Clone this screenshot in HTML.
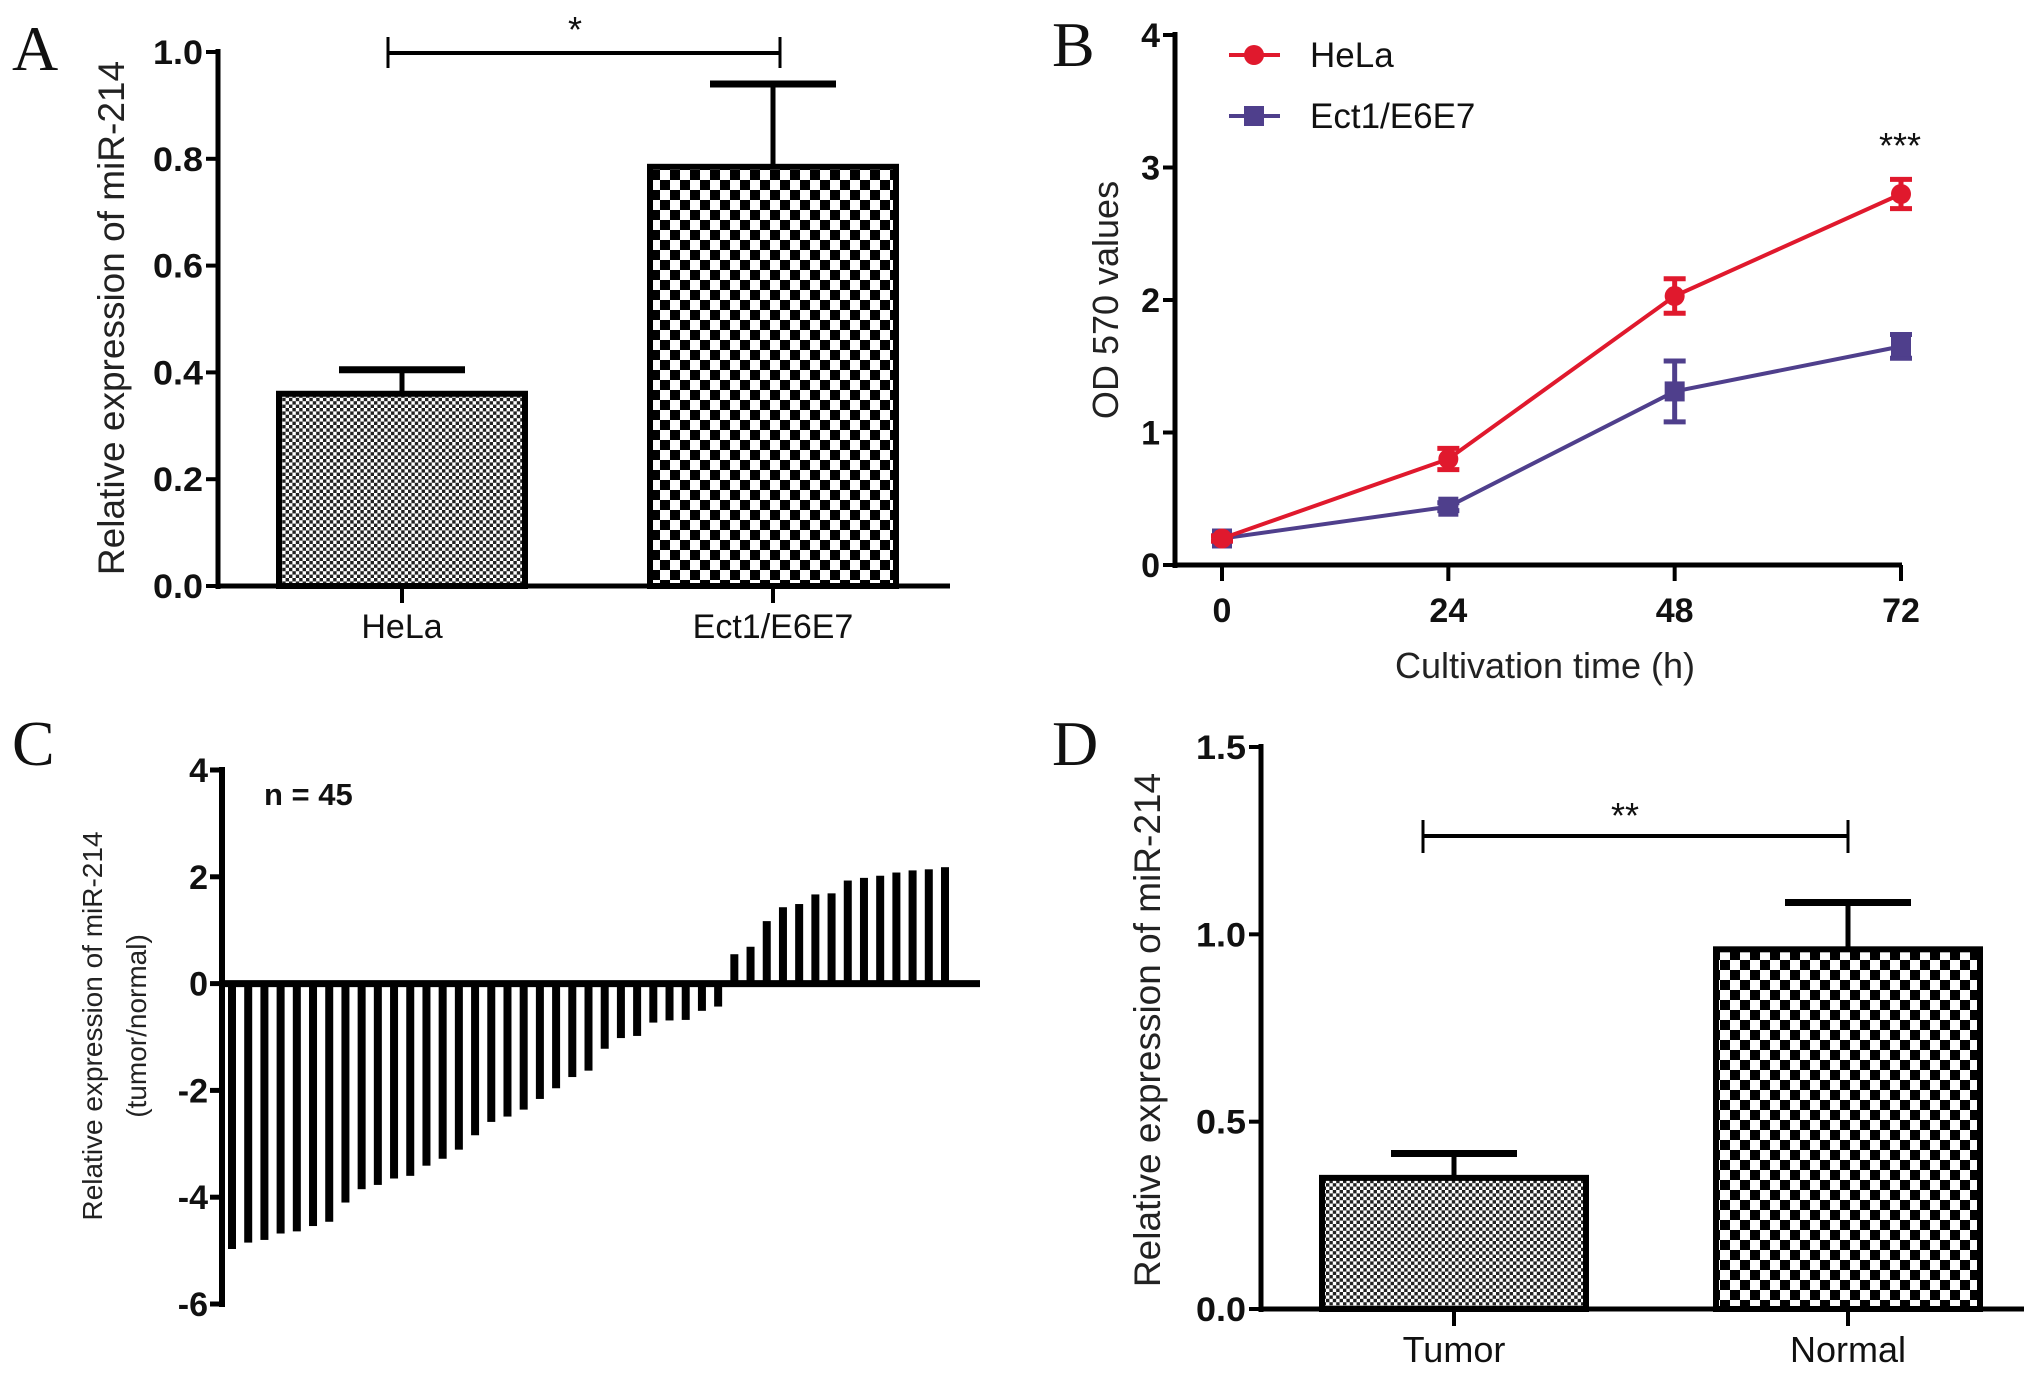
<!DOCTYPE html>
<html><head><meta charset="utf-8"><style>
html,body{margin:0;padding:0;background:#fff;overflow:hidden;}
svg{display:block;}
text{font-family:"Liberation Sans",Arial,sans-serif;}
.tick{font-weight:bold;font-size:34px;fill:#111;}
.lbl{font-family:"Liberation Serif",serif;font-size:64px;fill:#111;}
</style></head><body>
<svg id="fig" width="2031" height="1375" viewBox="0 0 2031 1375" xmlns="http://www.w3.org/2000/svg">
<defs>
<pattern id="fine" patternUnits="userSpaceOnUse" width="6.8" height="6.8"><rect width="6.8" height="6.8" fill="#fff"/><rect width="3.4" height="3.4" fill="#222"/><rect x="3.4" y="3.4" width="3.4" height="3.4" fill="#222"/></pattern>
<pattern id="coarse" patternUnits="userSpaceOnUse" width="20" height="20"><rect width="20" height="20" fill="#fff"/><rect width="10" height="10" fill="#000"/><rect x="10" y="10" width="10" height="10" fill="#000"/></pattern>
</defs>
<g id="pA"></g>
<g id="pB"></g>
<g id="pC"></g>
<g id="pD"></g>
</svg>
<script>
// Panel A data
const aCategories = ["HeLa", "Ect1/E6E7"];
const aValues = [0.36, 0.785];
const aErrors = [0.045, 0.155];
const aTicks = ["0.0","0.2","0.4","0.6","0.8","1.0"];
// Panel B data
const bTimes = [0, 24, 48, 72];
const bHeLa = [0.2, 0.8, 2.03, 2.8];
const bHeLaErr = [0.02, 0.08, 0.13, 0.11];
const bEct = [0.2, 0.44, 1.31, 1.65];
const bEctErr = [0.02, 0.03, 0.23, 0.09];
const bYTicks = ["0","1","2","3","4"];
// Panel C data
const cValues = [-4.97,-4.85,-4.8,-4.68,-4.64,-4.54,-4.46,-4.1,-3.85,-3.77,-3.65,-3.6,-3.41,-3.28,-3.11,-2.84,-2.59,-2.49,-2.36,-2.16,-1.96,-1.75,-1.63,-1.22,-1.02,-0.98,-0.73,-0.69,-0.68,-0.51,-0.43,0.55,0.69,1.17,1.43,1.49,1.67,1.69,1.93,1.98,2.02,2.08,2.12,2.14,2.18];
const cTicks = ["-6","-4","-2","0","2","4"];
// Panel D data
const dCategories = ["Tumor", "Normal"];
const dValues = [0.35, 0.96];
const dErrors = [0.065, 0.125];
const dTicks = ["0.0","0.5","1.0","1.5"];

const NS = "http://www.w3.org/2000/svg";
function mk(parent, tag, attrs, txt){
  const e = document.createElementNS(NS, tag);
  for (const k in attrs) e.setAttribute(k, attrs[k]);
  if (txt !== undefined) e.textContent = txt;
  parent.appendChild(e);
  return e;
}
function line(p,x1,y1,x2,y2,w,c){ return mk(p,"line",{x1,y1,x2,y2,stroke:c||"#000","stroke-width":w}); }

// ---------- Panel A ----------
(function(){
  const g = document.getElementById("pA");
  const ax = 218, y0 = 586, y1 = 52;
  const ys = v => y0 - (v/1.0)*(y0-y1);
  const xc = [402, 773], bw = 246;
  let t = mk(g,"text",{x:12,y:70,class:"lbl"},"A");
  
  
  aTicks.forEach(s=>{
    const v = parseFloat(s), y = ys(v);
    line(g,ax-12,y,ax,y,4);
    const tt = mk(g,"text",{x:203,y:y+12,class:"tick","text-anchor":"end",textLength:50,lengthAdjust:"spacingAndGlyphs"},s);
    
    
  });
  aValues.forEach((v,i)=>{
    const x = xc[i]-bw/2, top = ys(v);
    const r = mk(g,"rect",{x:x,y:top,width:bw,height:y0-top,fill:i===0?"url(#fine)":"url(#coarse)",stroke:"#000","stroke-width":6});
    
    
    const et = ys(v+aErrors[i]);
    line(g,xc[i],top,xc[i],et,5);
    line(g,xc[i]-63,et,xc[i]+63,et,7);
    line(g,xc[i],y0,xc[i],y0+17,4);
    const lt = mk(g,"text",{x:xc[i],y:y0+52,"text-anchor":"middle","font-size":"34px",fill:"#111"},aCategories[i]);
    
    
  });
  line(g,ax,y1-3,ax,y0+3,5);
  line(g,ax-2,y0,950,y0,5);
  line(g,388,53,780,53,4); line(g,388,37,388,68,3); line(g,780,37,780,68,3);
  let s = mk(g,"text",{x:575,y:42,"text-anchor":"middle","font-size":"36px",fill:"#111"},"*");
  
  
  let yt = mk(g,"text",{x:0,y:0,transform:"translate(124,318) rotate(-90)","text-anchor":"middle","font-size":"37px",fill:"#222"},"Relative expression of miR-214");
  
  
})();

// ---------- Panel B ----------
(function(){
  const g = document.getElementById("pB");
  const ax = 1175, y0 = 565, y4 = 35;
  const ys = v => y0 - v*(y0-y4)/4;
  const xs = t => 1222 + t*(1901-1222)/72;
  let t = mk(g,"text",{x:1052,y:66,class:"lbl"},"B");
  
  
  bYTicks.forEach(s=>{
    const y = ys(parseFloat(s));
    line(g,ax-12,y,ax,y,4);
    const tt = mk(g,"text",{x:1160,y:y+12,class:"tick","text-anchor":"end"},s);
    
    
  });
  bTimes.forEach(tm=>{
    const x = xs(tm);
    line(g,x,y0,x,y0+16,4);
    const tt = mk(g,"text",{x:x,y:622,class:"tick","text-anchor":"middle"},String(tm));
    
    
  });
  line(g,ax,y4-3,ax,y0+3,5);
  line(g,ax-2,y0,1902,y0,5);
  function series(vals, errs, color, shape, name){
    const pts = vals.map((v,i)=>xs(bTimes[i])+","+ys(v)).join(" ");
    const pl = mk(g,"polyline",{points:pts,fill:"none",stroke:color,"stroke-width":4});
    
    
    vals.forEach((v,i)=>{
      const x = xs(bTimes[i]);
      const a = ys(v+errs[i]), b = ys(v-errs[i]);
      line(g,x,a,x,b,5,color); line(g,x-11,a,x+11,a,5,color); line(g,x-11,b,x+11,b,5,color);
      let m;
      if (shape==="circle") m = mk(g,"circle",{cx:x,cy:ys(v),r:10,fill:color});
      else m = mk(g,"rect",{x:x-10,y:ys(v)-10,width:20,height:20,fill:color});
      
      
    });
  }
  series(bEct,bEctErr,"#4f3f8c","square","ect1");
  series(bHeLa,bHeLaErr,"#e0192d","circle","hela");
  line(g,1229,55,1280,55,4,"#e0192d"); mk(g,"circle",{cx:1254,cy:55,r:10,fill:"#e0192d"});
  let l1 = mk(g,"text",{x:1310,y:67,"font-size":"35px",fill:"#111"},"HeLa");
  
  
  line(g,1229,116,1280,116,4,"#4f3f8c"); mk(g,"rect",{x:1244,y:106,width:20,height:20,fill:"#4f3f8c"});
  let l2 = mk(g,"text",{x:1310,y:128,"font-size":"35px",fill:"#111"},"Ect1/E6E7");
  
  
  let s = mk(g,"text",{x:1900,y:158,"text-anchor":"middle","font-size":"36px",fill:"#111"},"***");
  
  
  let xt = mk(g,"text",{x:1545,y:678,"text-anchor":"middle","font-size":"36px",fill:"#222"},"Cultivation time (h)");
  
  
  let yt = mk(g,"text",{x:0,y:0,transform:"translate(1118,300) rotate(-90)","text-anchor":"middle","font-size":"36px",fill:"#222"},"OD 570 values");
  
  
})();

// ---------- Panel C ----------
(function(){
  const g = document.getElementById("pC");
  const ax = 222, yTop = 770, yBot = 1304;
  const ys = v => yTop + (4 - v)*(yBot-yTop)/10;
  let t = mk(g,"text",{x:12,y:765,class:"lbl"},"C");
  
  
  cTicks.forEach(s=>{
    const y = ys(parseFloat(s));
    line(g,ax-12,y,ax,y,5);
    const tt = mk(g,"text",{x:208,y:y+12,class:"tick","text-anchor":"end"},s);
    
    
  });
  line(g,ax,yTop-3,ax,yBot+3,6);
  const x0 = 232, x1 = 945;
  cValues.forEach((v,i)=>{
    const x = x0 + i*(x1-x0)/(cValues.length-1);
    const r = mk(g,"rect",{x:x-4,y:Math.min(ys(v),ys(0)),width:8,height:Math.abs(ys(v)-ys(0)),fill:"#000"});
    
    
  });
  line(g,ax,ys(0),980,ys(0),7);
  let n = mk(g,"text",{x:264,y:805,"font-size":"31px","font-weight":"bold",fill:"#111"},"n = 45");
  
  
  let y1t = mk(g,"text",{x:0,y:0,transform:"translate(102,1026) rotate(-90)","text-anchor":"middle","font-size":"28px",fill:"#222"},"Relative expression of miR-214");
  
  
  let y2t = mk(g,"text",{x:0,y:0,transform:"translate(146,1026) rotate(-90)","text-anchor":"middle","font-size":"28px",fill:"#222"},"(tumor/normal)");
  
  
})();

// ---------- Panel D ----------
(function(){
  const g = document.getElementById("pD");
  const ax = 1261, y0 = 1309, yT = 747;
  const ys = v => y0 - v*(y0-yT)/1.5;
  const xc = [1454, 1848], bw = 264;
  let t = mk(g,"text",{x:1052,y:765,class:"lbl"},"D");
  
  
  dTicks.forEach(s=>{
    const y = ys(parseFloat(s));
    line(g,ax-12,y,ax,y,4);
    const tt = mk(g,"text",{x:1246,y:y+12,class:"tick","text-anchor":"end",textLength:50,lengthAdjust:"spacingAndGlyphs"},s);
    
    
  });
  dValues.forEach((v,i)=>{
    const top = ys(v);
    const r = mk(g,"rect",{x:xc[i]-bw/2,y:top,width:bw,height:y0-top,fill:i===0?"url(#fine)":"url(#coarse)",stroke:"#000","stroke-width":6});
    
    
    const et = ys(v+dErrors[i]);
    line(g,xc[i],top,xc[i],et,5);
    line(g,xc[i]-63,et,xc[i]+63,et,7);
    line(g,xc[i],y0,xc[i],y0+17,4);
    const lt = mk(g,"text",{x:xc[i],y:1362,"text-anchor":"middle","font-size":"36px",fill:"#111"},dCategories[i]);
    
    
  });
  line(g,ax,yT-3,ax,y0+3,5);
  line(g,ax-2,y0,2024,y0,5);
  line(g,1423,836,1848,836,4); line(g,1423,820,1423,853,3); line(g,1848,820,1848,853,3);
  let s = mk(g,"text",{x:1625,y:828,"text-anchor":"middle","font-size":"36px",fill:"#111"},"**");
  
  
  let yt = mk(g,"text",{x:0,y:0,transform:"translate(1160,1030) rotate(-90)","text-anchor":"middle","font-size":"37px",fill:"#222"},"Relative expression of miR-214");
  
  
})();
</script>
</body></html>
